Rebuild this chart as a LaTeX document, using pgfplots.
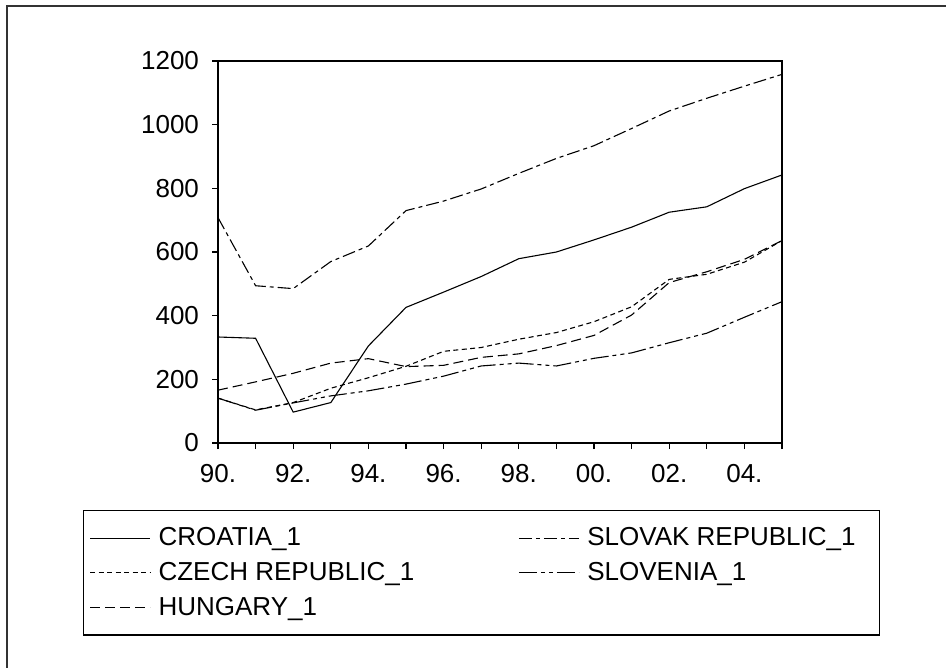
\documentclass[border=0pt]{standalone}
\usepackage{pgfplots}
\pgfplotsset{compat=1.18}
\usepackage{fontspec}
\setmainfont{Liberation Sans}
\begin{document}
\begin{tikzpicture}
\useasboundingbox (0,0) rectangle (473pt,-334pt);
\draw[line width=0.6pt, black!80] (3.5pt,-334pt) -- (3.5pt,-3pt) -- (473pt,-3pt);
\begin{axis}[
  at={(109pt,-221.5pt)}, anchor=south west,
  scale only axis, width=282pt, height=191pt,
  xmin=1990, xmax=2005, ymin=0, ymax=1200,
  xtick={1990,1992,...,2004},
  xticklabels={90.,92.,94.,96.,98.,00.,02.,04.},
  minor xtick={1991,1993,...,2005},
  ytick={0,200,...,1200},
  tick align=outside, xtick pos=bottom, ytick pos=left,
  major tick length=3pt, minor tick length=3pt,
  every tick/.style={black, line width=0.6pt},
  axis line style={line width=1pt},
  /pgf/number format/assume math mode=true,
  /pgf/number format/1000 sep={},
  tick label style={font=\fontsize{13}{15.5}\selectfont},
  yticklabel style={xshift=-3pt},
  xticklabel style={yshift=-4pt},
  legend style={
    at={(-0.2394,-0.1754)}, anchor=north west,
    draw=black, line width=0.6pt,
    font=\fontsize{13}{15.5}\selectfont,
    inner xsep=3pt, inner ysep=6.5pt,
    row sep=2.75pt,
    /tikz/every even column/.append style={column sep=50pt, text depth=0pt},
    /tikz/every odd column/.append style={column sep=2pt},
  },
  legend cell align=left,
  legend columns=2,
  legend image code/.code={\draw[#1,line width=0.5pt] (0pt,0pt) -- (30pt,0pt);},
  every axis plot/.append style={line width=0.55pt, black},
]
\addplot[solid] coordinates {
(1990,333)(1991,329)(1992,97)(1993,127)(1994,305)(1995,426)(1996,474)(1997,523)
(1998,579)(1999,600)(2000,638)(2001,678)(2002,725)(2003,742)(2004,799)(2005,842)};
\addlegendentry{CROATIA\_1}
\addplot[dash pattern=on 6.5pt off 2pt on 2pt off 2pt] coordinates {
(1990,708)(1991,494)(1992,485)(1993,570)(1994,619)(1995,730)(1996,760)(1997,798)
(1998,847)(1999,894)(2000,934)(2001,988)(2002,1043)(2003,1083)(2004,1121)(2005,1158)};
\addlegendentry{SLOVAK REPUBLIC\_1\rule{7pt}{0pt}}
\addplot[dash pattern=on 2.5pt off 1.75pt] coordinates {
(1990,141)(1991,104)(1992,127)(1993,172)(1994,205)(1995,241)(1996,288)(1997,300)
(1998,326)(1999,347)(2000,381)(2001,428)(2002,514)(2003,530)(2004,568)(2005,636)};
\addlegendentry{CZECH REPUBLIC\_1}
\addplot[dash pattern=on 9pt off 2pt on 2pt off 2pt on 2pt off 2pt] coordinates {
(1990,141)(1991,103)(1992,126)(1993,148)(1994,164)(1995,185)(1996,210)(1997,242)
(1998,251)(1999,242)(2000,266)(2001,283)(2002,315)(2003,345)(2004,395)(2005,444)};
\addlegendentry{SLOVENIA\_1}
\addplot[dash pattern=on 5pt off 2.5pt] coordinates {
(1990,166)(1991,192)(1992,219)(1993,251)(1994,265)(1995,240)(1996,244)(1997,269)
(1998,280)(1999,306)(2000,338)(2001,402)(2002,504)(2003,538)(2004,577)(2005,636)};
\addlegendentry{HUNGARY\_1}
\end{axis}
\end{tikzpicture}
\end{document}
